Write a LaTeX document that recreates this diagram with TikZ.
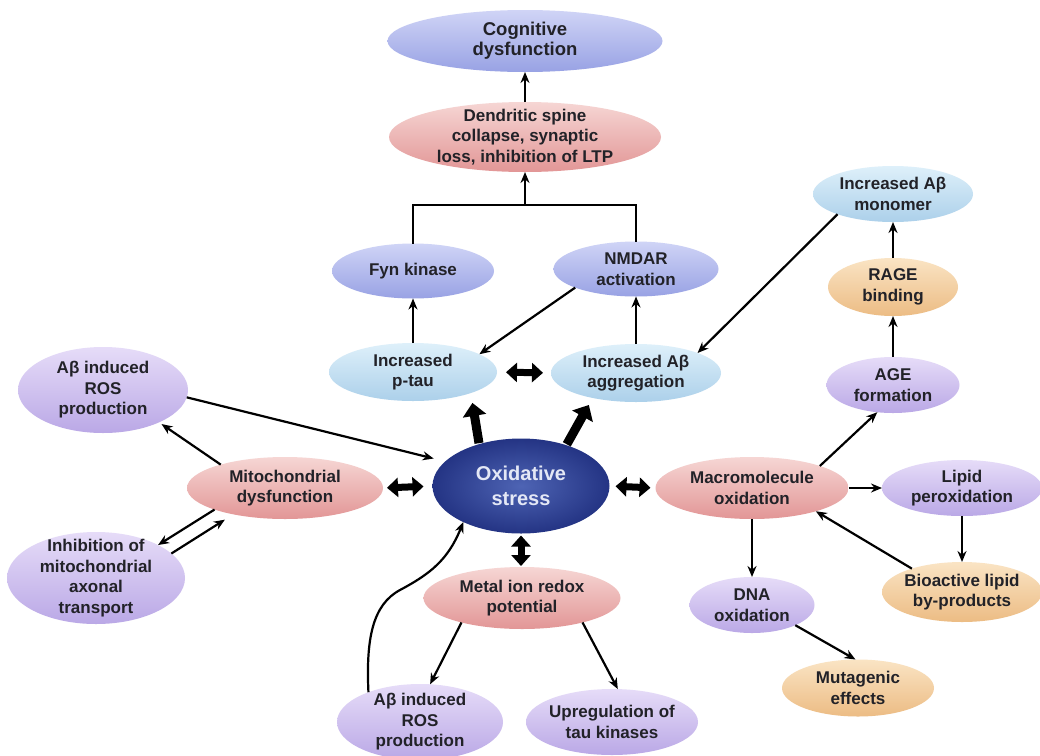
\documentclass[tikz,border=0pt]{standalone}
\usepackage{fontspec}
\setmainfont{Liberation Sans}
\usetikzlibrary{shapes.geometric,arrows.meta,calc}

% bubble palette (top / bottom of the vertical shading)
\definecolor{lavT}{RGB}{208,212,246}
\definecolor{lavB}{RGB}{152,162,228}
\definecolor{pinkT}{RGB}{246,214,212}
\definecolor{pinkB}{RGB}{226,150,150}
\definecolor{lbT}{RGB}{222,240,250}
\definecolor{lbB}{RGB}{172,208,234}
\definecolor{orT}{RGB}{250,228,196}
\definecolor{orB}{RGB}{236,188,132}
\definecolor{puT}{RGB}{230,220,248}
\definecolor{puB}{RGB}{186,168,230}
\definecolor{oxIn}{RGB}{78,100,180}
\definecolor{oxOut}{RGB}{36,52,132}
\definecolor{ink}{RGB}{34,34,40}
\definecolor{oxText}{RGB}{228,232,246}

\tikzset{
  bub/.style={ellipse, inner sep=0pt, outer sep=0pt, draw=none},
  lav/.style={bub, top color=lavT, bottom color=lavB},
  pnk/.style={bub, top color=pinkT, bottom color=pinkB},
  lbl/.style={bub, top color=lbT, bottom color=lbB},
  org/.style={bub, top color=orT, bottom color=orB},
  pur/.style={bub, top color=puT, bottom color=puB},
  navy/.style={bub, inner color=oxIn, outer color=oxOut},
  txt/.style={align=center, inner sep=0pt, text=ink,
    font=\bfseries\fontsize{17}{20.5}\selectfont},
  bigtxt/.style={txt, font=\bfseries\fontsize{18.5}{20}\selectfont},
  oxtxt/.style={align=center, inner sep=0pt, text=oxText,
    font=\bfseries\fontsize{20}{25}\selectfont},
  conn/.style={line width=2.2pt, black},
  arr/.style={conn, -{Stealth[length=11pt,width=9pt]}},
  fat/.style={line width=9pt, -{Triangle[length=13pt,width=23pt]}},
  dbl/.style={line width=7pt,
    {Triangle[length=11pt,width=19pt]}-{Triangle[length=11pt,width=19pt]}},
}

\begin{document}
\begin{tikzpicture}[x=1pt,y=-1pt]
\useasboundingbox (0,0) rectangle (1040,755);
\fill[white] (0,0) rectangle (1040,755);

% ---- bubbles ----
\node[lav, minimum width=275pt, minimum height=62pt] (cog) at (525,41) {};
\node[bigtxt] (cog-t) at (cog) {Cognitive\\dysfunction};

\node[pnk, minimum width=272pt, minimum height=70pt] (dend) at (525,137) {};
\node[txt] (dend-t) at (dend) {Dendritic spine\\collapse, synaptic\\loss, inhibition of LTP};

\node[lav, minimum width=162pt, minimum height=55pt] (fyn) at (413,271) {};
\node[txt] (fyn-t) at (fyn) {Fyn kinase};

\node[lav, minimum width=165pt, minimum height=55pt] (nmdar) at (636,269) {};
\node[txt] (nmdar-t) at (nmdar) {NMDAR\\activation};

\node[lbl, minimum width=168pt, minimum height=58pt] (ptau) at (413,372) {};
\node[txt] (ptau-t) at (ptau) {Increased\\p-tau};

\node[lbl, minimum width=170pt, minimum height=58pt] (agg) at (636,373) {};
\node[txt] (agg-t) at (agg) {Increased Aβ\\aggregation};

\node[lbl, minimum width=160pt, minimum height=56pt] (mono) at (893,194) {};
\node[txt] (mono-t) at (mono) {Increased Aβ\\monomer};

\node[org, minimum width=130pt, minimum height=58pt] (rage) at (893,287) {};
\node[txt] (rage-t) at (rage) {RAGE\\binding};

\node[pur, minimum width=133pt, minimum height=56pt] (age) at (893,385) {};
\node[txt] (age-t) at (age) {AGE\\formation};

\node[pur, minimum width=170pt, minimum height=86pt] (rosl) at (103,390) {};
\node[txt] (rosl-t) at (rosl) {Aβ induced\\ROS\\production};

\node[pnk, minimum width=196pt, minimum height=62pt] (mito) at (285,488) {};
\node[txt] (mito-t) at (mito) {Mitochondrial\\dysfunction};

\node[navy, minimum width=177pt, minimum height=95pt] (ox) at (521,486) {};
\node[oxtxt] (ox-t) at (ox) {Oxidative\\stress};

\node[pnk, minimum width=193pt, minimum height=62pt] (macro) at (752,488) {};
\node[txt] (macro-t) at (macro) {Macromolecule\\oxidation};

\node[pur, minimum width=160pt, minimum height=56pt] (lipid) at (962,488) {};
\node[txt] (lipid-t) at (lipid) {Lipid\\peroxidation};

\node[org, minimum width=160pt, minimum height=60pt] (bio) at (962,592) {};
\node[txt] (bio-t) at (bio) {Bioactive lipid\\by-products};

\node[pur, minimum width=125pt, minimum height=56pt] (dna) at (752,605) {};
\node[txt] (dna-t) at (dna) {DNA\\oxidation};

\node[org, minimum width=152pt, minimum height=57pt] (mut) at (858,688) {};
\node[txt] (mut-t) at (mut) {Mutagenic\\effects};

\node[pur, minimum width=178pt, minimum height=92pt] (inh) at (96,578) {};
\node[txt] (inh-t) at (inh) {Inhibition of\\mitochondrial\\axonal\\transport};

\node[pnk, minimum width=197pt, minimum height=62pt] (metal) at (522,598) {};
\node[txt] (metal-t) at (metal) {Metal ion redox\\potential};

\node[pur, minimum width=166pt, minimum height=76pt] (rosb) at (420,722) {};
\node[txt] (rosb-t) at (rosb) {Aβ induced\\ROS\\production};

\node[pur, minimum width=172pt, minimum height=66pt] (upreg) at (612,722) {};
\node[txt] (upreg-t) at (upreg) {Upregulation of\\tau kinases};

% ---- upper tree ----
\coordinate (jn) at (525,205);
\draw[arr] (dend.north) -- (cog.south);
\draw[conn] (fyn.north) |- (jn) -| (nmdar.north);
\draw[arr] (jn) -- (dend.south);
\draw[arr] (ptau.north) -- (fyn.south);
\draw[arr] (agg.north) -- (nmdar.south);
\draw[arr] (nmdar.197) -- (ptau.15);
\draw[arr] (mono.200) -- (agg.18);
\draw[dbl, shorten <=9pt, shorten >=8pt] (ptau.east) -- (agg.west);

% ---- RAGE branch ----
\draw[arr] (macro.18) -- (age.240);
\draw[arr] (age.north) -- (rage.south);
\draw[arr] (rage.north) -- (mono.south);

% ---- oxidative stress hub ----
\draw[fat, shorten <=1pt, shorten >=10pt] (ox.135) -- (ptau.-20);
\draw[fat, shorten <=1pt, shorten >=8pt] (ox.42) -- (agg.210);
\draw[dbl, shorten <=4pt, shorten >=9pt] (mito.east) -- (ox.west);
\draw[dbl, shorten <=6pt, shorten >=5pt] (ox.east) -- (macro.west);
\draw[dbl, shorten <=2pt, shorten >=1pt] (ox.south) -- (ox.south |- metal.north);

% ---- left side ----
\draw[arr, shorten >=12pt] (rosl.-5) -- (ox.162);
\draw[arr, shorten >=3pt] (mito.160) -- (rosl.-30);
\draw[arr] (mito.197) -- (inh.28);
\draw[arr, shorten >=10pt] (inh.18) -- (mito.207);

% ---- right side ----
\draw[arr] (macro.east) -- (lipid.west);
\draw[arr] (lipid.south) -- (bio.north);
\draw[arr] (bio.155) -- (macro.-20);
\draw[arr] (macro.south) -- (dna.north);
\draw[arr] (dna.-25) -- (mut.95);

% ---- metal ion branch ----
\draw[arr] (metal.202) -- (rosb.75);
\draw[arr] (metal.-22) -- (upreg.80);
\draw[arr] (rosb.150) .. controls (366,640) and (372,605) .. (400,590)
  .. controls (430,574) and (448,560) .. (ox.212);
\end{tikzpicture}
\end{document}
